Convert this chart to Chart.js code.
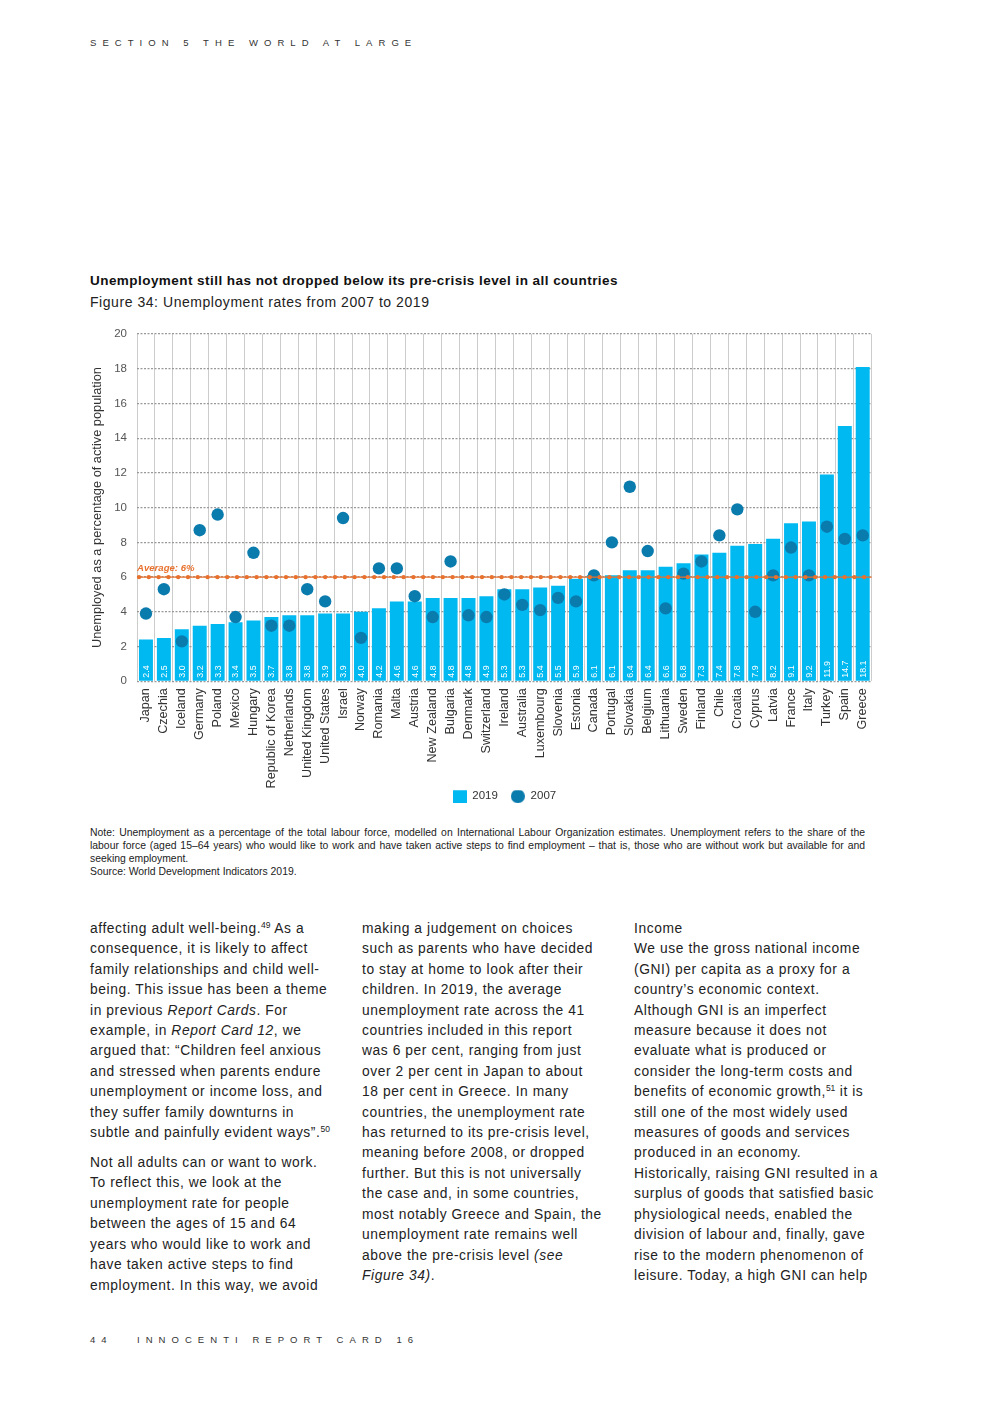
<!DOCTYPE html>
<html>
<head>
<meta charset="utf-8">
<script src="https://cdn.jsdelivr.net/npm/chart.js@4.4.1/dist/chart.umd.min.js"></script>
<style>
  html, body { margin:0; padding:0; background:#fff; }
  body { width:992px; height:1403px; position:relative; overflow:hidden; font-family:"Liberation Sans", Arial, sans-serif; color:#222; }
  .abs { position:absolute; white-space:nowrap; }
  .hdr { font-size:9.5px; letter-spacing:6.05px; color:#333; }
  .title { font-size:13.5px; font-weight:bold; color:#111; letter-spacing:0.45px; }
  .sub { font-size:14px; color:#222; letter-spacing:0.55px; }
  .note { font-family:"Liberation Sans Narrow","Liberation Sans",Arial,sans-serif; font-size:10.4px; line-height:13px; color:#222; width:775px; white-space:normal; }
  .note div { white-space:nowrap; }
  .note .j { text-align:justify; text-align-last:justify; }
  .col { font-size:13.8px; line-height:20.4px; letter-spacing:0.58px; color:#222; }
  .col p { margin:0; }
  .col p + p { margin-top:9.6px; }
  sup { font-size:8.5px; vertical-align:5px; line-height:0; letter-spacing:0; }
  #wrap { position:absolute; left:85px; top:317px; width:800px; height:495px; }
</style>
</head>
<body>
<div class="abs hdr" style="left:90px; top:37px;">SECTION 5 THE WORLD AT LARGE</div>

<div class="abs title" style="left:90px; top:273px;">Unemployment still has not dropped below its pre-crisis level in all countries</div>
<div class="abs sub" style="left:90px; top:294px;">Figure 34: Unemployment rates from 2007 to 2019</div>

<div id="wrap"><canvas id="c" width="800" height="495"></canvas></div>

<div class="abs note" style="left:90px; top:826px;">
  <div class="j">Note: Unemployment as a percentage of the total labour force, modelled on International Labour Organization estimates. Unemployment refers to the share of the</div>
  <div class="j">labour force (aged 15–64 years) who would like to work and have taken active steps to find employment – that is, those who are without work but available for and</div>
  <div>seeking employment.</div>
  <div>Source: World Development Indicators 2019.</div>
</div>

<div class="abs col" style="left:90px; top:919px;">
<p>affecting adult well-being.<sup>49</sup> As a<br>consequence, it is likely to affect<br>family relationships and child well-<br>being. This issue has been a theme<br>in previous <i>Report Cards</i>. For<br>example, in <i>Report Card 12</i>, we<br>argued that: “Children feel anxious<br>and stressed when parents endure<br>unemployment or income loss, and<br>they suffer family downturns in<br>subtle and painfully evident ways”.<sup>50</sup></p>
<p>Not all adults can or want to work.<br>To reflect this, we look at the<br>unemployment rate for people<br>between the ages of 15 and 64<br>years who would like to work and<br>have taken active steps to find<br>employment. In this way, we avoid</p>
</div>

<div class="abs col" style="left:362px; top:919px;">
<p>making a judgement on choices<br>such as parents who have decided<br>to stay at home to look after their<br>children. In 2019, the average<br>unemployment rate across the 41<br>countries included in this report<br>was 6 per cent, ranging from just<br>over 2 per cent in Japan to about<br>18 per cent in Greece. In many<br>countries, the unemployment rate<br>has returned to its pre-crisis level,<br>meaning before 2008, or dropped<br>further. But this is not universally<br>the case and, in some countries,<br>most notably Greece and Spain, the<br>unemployment rate remains well<br>above the pre-crisis level <i>(see<br>Figure 34)</i>.</p>
</div>

<div class="abs col" style="left:634px; top:919px;">
<p>Income<br>We use the gross national income<br>(GNI) per capita as a proxy for a<br>country’s economic context.<br>Although GNI is an imperfect<br>measure because it does not<br>evaluate what is produced or<br>consider the long-term costs and<br>benefits of economic growth,<sup>51</sup> it is<br>still one of the most widely used<br>measures of goods and services<br>produced in an economy.<br>Historically, raising GNI resulted in a<br>surplus of goods that satisfied basic<br>physiological needs, enabled the<br>division of labour and, finally, gave<br>rise to the modern phenomenon of<br>leisure. Today, a high GNI can help</p>
</div>

<div class="abs hdr" style="left:90px; top:1334px;">44</div>
<div class="abs hdr" style="left:137px; top:1334px;">INNOCENTI REPORT CARD 16</div>

<script>
// ---------- DATA ----------
const countries = ['Japan','Czechia','Iceland','Germany','Poland','Mexico','Hungary','Republic of Korea','Netherlands','United Kingdom','United States','Israel','Norway','Romania','Malta','Austria','New Zealand','Bulgaria','Denmark','Switzerland','Ireland','Australia','Luxembourg','Slovenia','Estonia','Canada','Portugal','Slovakia','Belgium','Lithuania','Sweden','Finland','Chile','Croatia','Cyprus','Latvia','France','Italy','Turkey','Spain','Greece'];
const rate2019 = [2.4,2.5,3.0,3.2,3.3,3.4,3.5,3.7,3.8,3.8,3.9,3.9,4.0,4.2,4.6,4.6,4.8,4.8,4.8,4.9,5.3,5.3,5.4,5.5,5.9,6.1,6.1,6.4,6.4,6.6,6.8,7.3,7.4,7.8,7.9,8.2,9.1,9.2,11.9,14.7,18.1];
const rate2007 = [3.9,5.3,2.3,8.7,9.6,3.7,7.4,3.2,3.2,5.3,4.6,9.4,2.5,6.5,6.5,4.9,3.7,6.9,3.8,3.7,5.0,4.4,4.1,4.8,4.6,6.1,8.0,11.2,7.5,4.2,6.2,6.9,8.4,9.9,4.0,6.1,7.7,6.1,8.9,8.2,8.4];
const seriesLabels = ['2019','2007'];
const averageValue = 6;
const averageLabel = 'Average: 6%';
const yTitle = 'Unemployed as a percentage of active population';
const yMin = 0, yMax = 20, yStep = 2;

// ---------- STYLE ----------
const barColor = '#00B9F1';
const dotColor = '#0A7BAD';
const avgColor = '#E8712D';
const FONT = '"Liberation Sans", Arial, sans-serif';

function icon(kind, color, size) {
  const c = document.createElement('canvas');
  c.width = size; c.height = size;
  const g = c.getContext('2d');
  g.fillStyle = color;
  if (kind === 'rect') g.fillRect(0, 0, size, size);
  else { g.beginPath(); g.arc(size/2, size/2, size/2, 0, Math.PI*2); g.fill(); }
  return c;
}
const legendIcons = [icon('rect', barColor, 14), icon('circle', dotColor, 14)];

const valueLabelPlugin = {
  id: 'valueLabels',
  afterDatasetDraw(chart, args) {
    if (args.index !== 0) return;
    const ctx = chart.ctx;
    const meta = chart.getDatasetMeta(0);
    ctx.save();
    ctx.fillStyle = '#ffffff';
    ctx.font = '8.8px ' + FONT;
    ctx.textAlign = 'left';
    ctx.textBaseline = 'middle';
    meta.data.forEach((el, i) => {
      ctx.save();
      ctx.translate(el.x, el.base - 3);
      ctx.rotate(-Math.PI / 2);
      ctx.fillText(rate2019[i].toFixed(1), 0, 0.5);
      ctx.restore();
    });
    ctx.restore();
  }
};

const averagePlugin = {
  id: 'averageLine',
  afterDatasetsDraw(chart) {
    const {ctx, chartArea: {left, right}, scales: {y}} = chart;
    const py = y.getPixelForValue(averageValue);
    ctx.save();
    ctx.strokeStyle = avgColor;
    ctx.lineWidth = 1.4;
    ctx.beginPath(); ctx.moveTo(left, py); ctx.lineTo(right, py); ctx.stroke();
    ctx.fillStyle = avgColor;
    for (let x = left + 2; x <= right; x += 9.8) {
      ctx.beginPath(); ctx.arc(x, py, 2.2, 0, Math.PI * 2); ctx.fill();
    }
    ctx.font = 'italic bold 9.6px ' + FONT;
    ctx.textAlign = 'left';
    ctx.textBaseline = 'alphabetic';
    ctx.fillText(averageLabel, left, py - 6);
    ctx.restore();
  }
};

new Chart(document.getElementById('c'), {
  data: {
    labels: countries,
    datasets: [
      { type: 'bar', label: seriesLabels[0], data: rate2019, backgroundColor: barColor,
        barPercentage: 0.78, categoryPercentage: 1.0, order: 2 },
      { type: 'line', label: seriesLabels[1], data: rate2007, showLine: false,
        pointRadius: 6.2, pointHoverRadius: 6.2, pointBackgroundColor: dotColor, pointBorderWidth: 0, order: 1 }
    ]
  },
  plugins: [valueLabelPlugin, averagePlugin],
  options: {
    responsive: false,
    animation: false,
    layout: { padding: { top: 0, right: 13, left: 0, bottom: 0 } },
    plugins: {
      tooltip: { enabled: false },
      legend: {
        position: 'bottom',
        fullSize: false,
        title: { display: true, text: '', font: { size: 10 }, padding: -12.4 },
        labels: {
          usePointStyle: true,
          pointStyleWidth: 14,
          padding: 13,
          color: '#333',
          font: { family: FONT, size: 11.5 },
          generateLabels: (chart) => chart.data.datasets.map((ds, i) => ({
            text: ds.label, pointStyle: legendIcons[i], fillStyle: i === 0 ? barColor : dotColor,
            strokeStyle: 'transparent', lineWidth: 0, hidden: false, datasetIndex: i, fontColor: '#333'
          }))
        }
      }
    },
    scales: {
      x: {
        offset: true,
        grid: { display: true, offset: true, color: '#cccccc', lineWidth: 1, drawTicks: false },
        border: { display: false },
        ticks: { autoSkip: false, minRotation: 90, maxRotation: 90, padding: 7, color: '#333',
                 font: { family: FONT, size: 12.6 } },
        afterFit: (s) => { s.height = 109; }
      },
      y: {
        min: yMin, max: yMax,
        ticks: { stepSize: yStep, padding: 10, color: '#555', font: { family: FONT, size: 11.5 } },
        grid: { color: '#999999', lineWidth: 1.2, drawTicks: false },
        border: { display: false, dash: [2, 1.5] },
        title: { display: true, text: yTitle, color: '#333', font: { family: FONT, size: 12.8 }, padding: { top: 5, bottom: 0 } },
        afterFit: (s) => { s.width = 52; }
      }
    }
  }
});
</script>
</body>
</html>
